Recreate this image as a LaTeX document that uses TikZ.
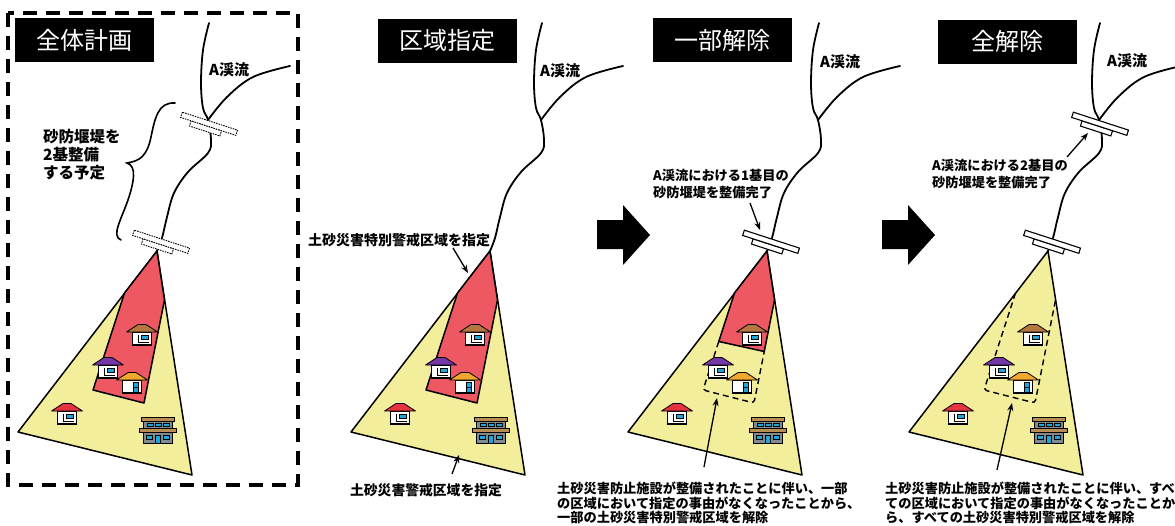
\documentclass[tikz,border=0pt]{standalone}
\usepackage{fontspec}
\setmainfont{Noto Sans CJK JP}
\usetikzlibrary{arrows.meta}

\definecolor{zoneyellow}{HTML}{F2EE9C}
\definecolor{zonered}{HTML}{EE5862}
\definecolor{roofbrown}{HTML}{B5773F}
\definecolor{roofpurple}{HTML}{7536A8}
\definecolor{rooforange}{HTML}{F2A72E}
\definecolor{roofred}{HTML}{E53440}
\definecolor{wincyan}{HTML}{1AA7DB}
\definecolor{schooltan}{HTML}{B98C52}
\definecolor{schoolgray}{HTML}{808A8F}

\tikzset{
  stream/.style={line width=1.8pt, line cap=round, line join=round},
  zoneline/.style={line width=1.5pt, line join=round},
  damplan/.style={fill=white, line width=0.9pt, dash pattern=on 1.5pt off 1pt},
  dambuilt/.style={fill=white, line width=1.1pt},
  cutline/.style={line width=1.4pt, dash pattern=on 6pt off 4pt, rounded corners=3pt},
  titlebox/.style={fill=black, text=white, minimum width=139pt, minimum height=44pt,
    inner sep=0pt, font=\fontsize{24}{28}\selectfont},
  lbl/.style={inner sep=0pt, font=\bfseries\fontsize{13.2}{14.5}\selectfont, align=left},
  streamlbl/.style={inner sep=0pt, anchor=west, font=\bfseries\fontsize{15}{18}\selectfont},
  pointer/.style={line width=1.3pt, -{Stealth[length=8pt,width=6pt]}},
  blockarrow/.style={fill=black}
}

% a dam of two planks, centred on #1, drawn in style #2
\newcommand\damshape[2]{%
  \begin{scope}[shift={#1}, rotate=-18]
    \draw[#2] (-18,2.5) rectangle (14,8);
    \draw[#2] (-29,-3) rectangle (29,2.5);
  \end{scope}}

% house with a wide window, body top centre at #1, roof colour #2
\newcommand\househ[2]{%
  \begin{scope}[shift={#1}]
    \draw[line width=1.4pt, fill=white] (-9.5,0) rectangle (9.5,13);
    \draw[line width=0.9pt] (-3.5,3) -- (-3.5,10) -- (7,10);
    \draw[line width=0.9pt, fill=wincyan] (-1,3) rectangle (6.5,7.5);
    \draw[fill=#2, line width=0.8pt, line join=round]
      (-15.5,0) -- (-4,-7.5) -- (4,-7.5) -- (15.5,0) -- cycle;
  \end{scope}}

% house with a tall glazed door
\newcommand\housev[2]{%
  \begin{scope}[shift={#1}]
    \draw[line width=1.4pt, fill=white] (-9.5,0) rectangle (9.5,13);
    \draw[line width=0.9pt, fill=wincyan] (1,2) rectangle (6.5,12);
    \draw[line width=0.9pt] (1,7) -- (6.5,7);
    \draw[fill=#2, line width=0.8pt, line join=round]
      (-15.5,0) -- (-4,-7.5) -- (4,-7.5) -- (15.5,0) -- cycle;
  \end{scope}}

% two storey school, top left corner at #1
\newcommand\school[1]{%
  \begin{scope}[shift={#1}, line width=0.8pt]
    \draw[fill=schoolgray] (4,4) rectangle (33,26);
    \draw[fill=schooltan] (2,0) rectangle (35,4);
    \foreach \wx in {8,16,24} \draw[fill=wincyan] (\wx,6) rectangle (\wx+6,9.5);
    \draw[fill=schooltan] (0,11) rectangle (37,15);
    \draw[fill=wincyan] (7,18) rectangle (13,22);
    \draw[fill=wincyan] (24,18) rectangle (30,22);
    \draw[fill=wincyan] (16,18) rectangle (21,26);
  \end{scope}}

% corner points of the hazard fan and of the special zone, in panel coordinates
\newcommand\fancoords{%
  \coordinate (A) at (157,251);
  \coordinate (L) at (18,432);
  \coordinate (B) at (192,475);
  \coordinate (P1) at (124.5,293);
  \coordinate (P4) at (164.5,300);
  \coordinate (Q1) at (93,390);
  \coordinate (Q2) at (144,403);
  \coordinate (C1) at (108.75,341.5);
  \coordinate (C2) at (154.25,351.5);}

% the creek with its tributary
\newcommand\creek{%
  \draw[stream] plot[smooth, tension=0.6] coordinates {(209,23) (203,50) (201,83) (203,108)
    (208,120) (211,140) (208,153) (188,172) (174,193) (167,217) (162,238) (157,251)};
  \draw[stream] plot[smooth, tension=0.6] coordinates {(290,66) (253,77) (227,97) (208,120)};}

% fan with the buildings on it
\newcommand\fan{%
  \draw[zoneline, fill=zoneyellow] (A) -- (L) -- (B) -- cycle;}
\newcommand\buildings{%
  \househ{(142,332)}{roofbrown}
  \househ{(108,365)}{roofpurple}
  \housev{(132,380)}{rooforange}
  \househ{(67,411)}{roofred}
  \school{(139,417)}}

\begin{document}
\begin{tikzpicture}[x=1pt, y=-1pt]
\useasboundingbox (0,0) rectangle (1175,525);
\fill[white] (0,0) rectangle (1175,525);

% ---------- overall plan ----------
\draw[line width=3.5pt, dash pattern=on 14pt off 9pt] (8,13) rectangle (298,485);
\node[titlebox] (t1) at (84,40) {全体計画};
\begin{scope}
\fancoords
\creek
\fan
\draw[zoneline, fill=zonered] (A) -- (P1) -- (Q1) -- (Q2) -- (P4) -- cycle;
\buildings
\damshape{(209,124)}{damplan}
\damshape{(161,242)}{damplan}
\end{scope}
\node[streamlbl] (c1) at (209,70) {A渓流};
\draw[line width=1.6pt, line cap=round] (175,103) .. controls (158,102) and (155,118) .. (151,137)
  .. controls (147,156) and (140,161) .. (127,163)
  .. controls (137,166) and (134,182) .. (128,200)
  .. controls (121,220) and (111,236) .. (121,240);
\node[inner sep=0pt, anchor=north west, align=left,
  font=\bfseries\fontsize{15.5}{18}\selectfont] (plan) at (43,129) {砂防堰堤を\\2基整備\\する予定};

% ---------- designation ----------
\begin{scope}[shift={(333,0)}]
\fancoords
\creek
\fan
\draw[zoneline, fill=zonered] (A) -- (P1) -- (Q1) -- (Q2) -- (P4) -- cycle;
\buildings
\end{scope}
\node[titlebox] (t2) at (447.5,40.5) {区域指定};
\node[streamlbl] (c2) at (540,71) {A渓流};
\node[lbl, anchor=west, font=\bfseries\fontsize{14}{16}\selectfont] (sz) at (308,240) {土砂災害特別警戒区域を指定};
\coordinate (szs) at (453,248);
\coordinate (szt) at (468,273);
\draw[pointer] (szs) -- (szt);
\node[lbl, font=\bfseries\fontsize{13.8}{16}\selectfont] (wz) at (426,490) {土砂災害警戒区域を指定};
\coordinate (wzs) at (452,474);
\coordinate (wzt) at (459,455);
\draw[pointer] (wzs) -- (wzt);

% ---------- partial lifting ----------
\fill[blockarrow] (597,220) -- (623,220) -- (623,205) -- (650,235) -- (623,265) -- (623,249) -- (597,249) -- cycle;
\begin{scope}[shift={(610,0)}]
\fancoords
\creek
\fan
\draw[zoneline, fill=zonered] (A) -- (P1) -- (C1) -- (C2) -- (P4) -- cycle;
\draw[cutline] (C1) -- (Q1) -- (Q2) -- (C2);
\buildings
\damshape{(161,242)}{dambuilt}
\end{scope}
\node[titlebox] (t3) at (722.5,40) {一部解除};
\node[streamlbl] (c3) at (820,62) {A渓流};
\node[lbl, anchor=north west, font=\bfseries\fontsize{13.2}{17}\selectfont] (d3) at (653,169) {A渓流における1基目の\\砂防堰堤を整備完了};
\coordinate (d3s) at (750,203);
\coordinate (d3t) at (760,230);
\draw[pointer] (d3s) -- (d3t);
\node[lbl, anchor=north west] (r3) at (557,482) {土砂災害防止施設が整備されたことに伴い、一部\\の区域において指定の事由がなくなったことから、\\一部の土砂災害特別警戒区域を解除};
\coordinate (r3s) at (704,467);
\coordinate (r3t) at (717,398);
\draw[pointer] (r3s) -- (r3t);

% ---------- full lifting ----------
\fill[blockarrow] (882,220) -- (908,220) -- (908,205) -- (935,235) -- (908,265) -- (908,249) -- (882,249) -- cycle;
\begin{scope}[shift={(891,0)}]
\fancoords
\creek
\fan
\draw[cutline] (P1) -- (Q1) -- (Q2) -- (P4);
\buildings
\damshape{(209,124)}{dambuilt}
\damshape{(161,242)}{dambuilt}
\end{scope}
\node[titlebox] (t4) at (1007,41.5) {全解除};
\node[streamlbl] (c4) at (1107,61) {A渓流};
\node[lbl, anchor=north west, font=\bfseries\fontsize{13.2}{17}\selectfont] (d4) at (932,159) {A渓流における2基目の\\砂防堰堤を整備完了};
\coordinate (d4s) at (1067,157);
\coordinate (d4t) at (1088,133);
\draw[pointer] (d4s) -- (d4t);
\node[lbl, anchor=north west] (r4) at (885,482) {土砂災害防止施設が整備されたことに伴い、すべ\\ての区域において指定の事由がなくなったことか\\ら、すべての土砂災害特別警戒区域を解除};
\coordinate (r4s) at (997,470);
\coordinate (r4t) at (1012,403);
\draw[pointer] (r4s) -- (r4t);
\end{tikzpicture}
\end{document}
